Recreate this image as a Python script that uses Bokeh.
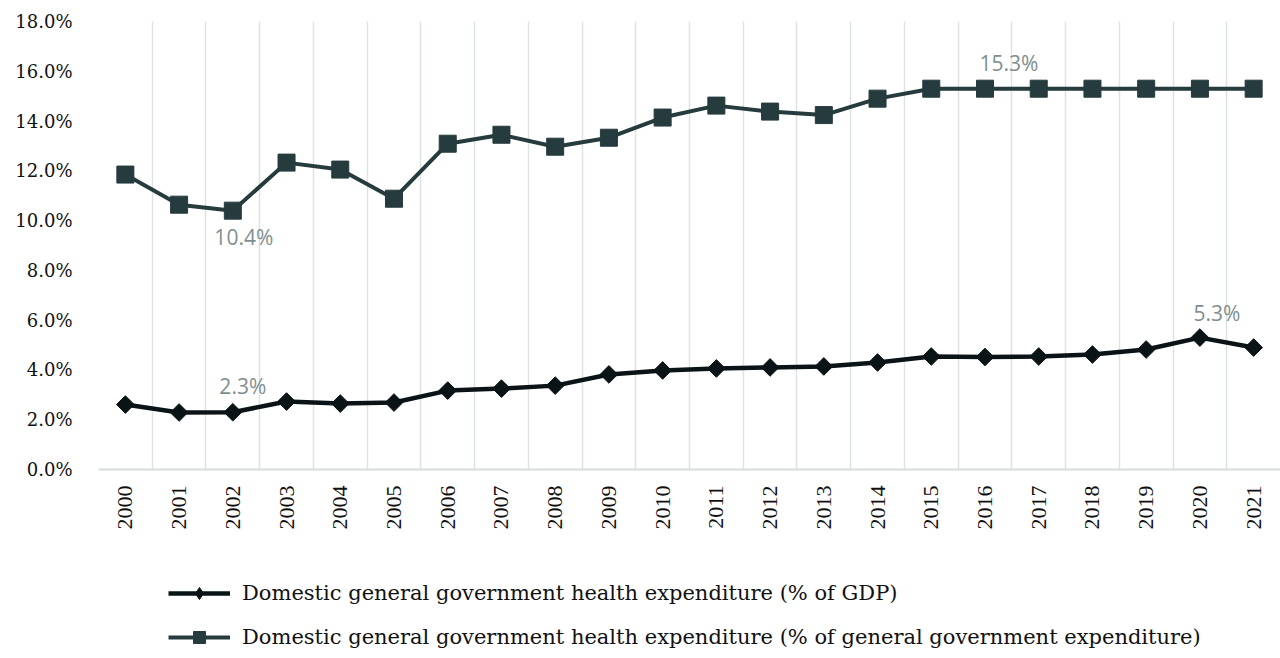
from math import pi
from bokeh.plotting import figure
from bokeh.layouts import column
from bokeh.models import (Legend, LegendItem, FixedTicker, ColumnDataSource,
                          Range1d, PrintfTickFormatter)
from bokeh.core.properties import value
from bokeh.embed import file_html
from bokeh.resources import INLINE

# ---- data ----
years = [str(y) for y in range(2000, 2022)]
gdp_share = [2.61, 2.29, 2.3, 2.73, 2.65, 2.69, 3.17, 3.25, 3.37, 3.82, 3.98,
             4.06, 4.1, 4.14, 4.3, 4.54, 4.52, 4.54, 4.62, 4.82, 5.3, 4.9]
gov_share = [11.85, 10.64, 10.4, 12.33, 12.05, 10.88, 13.09, 13.45, 12.97, 13.33,
             14.14, 14.62, 14.38, 14.24, 14.9, 15.3, 15.3, 15.3, 15.3, 15.3,
             15.3, 15.3]
gdp_label_idx = [2, 20]
gov_label_idx = [2, 16]
y_ticks = [0, 2, 4, 6, 8, 10, 12, 14, 16, 18]
series_names = [
    "Domestic general government health expenditure (% of GDP)",
    "Domestic general government health expenditure (% of general government expenditure)",
]

SERIF = "'DejaVu Serif', serif"
TIMES = "'Liberation Serif', serif"

xs = [i + 0.5 for i in range(len(years))]
src = ColumnDataSource(dict(x=xs, gdp=gdp_share, gov=gov_share))

p = figure(width=1280, height=549, x_range=Range1d(0, len(years)),
           y_range=Range1d(0, 18), output_backend="svg", toolbar_location=None,
           min_border_left=98, min_border_right=0, min_border_top=21,
           min_border_bottom=80)
p.outline_line_color = None
p.background_fill_color = "white"

# grid at category boundaries
p.xgrid.ticker = FixedTicker(ticks=list(range(0, len(years) + 1)))
p.xgrid.grid_line_color = "#dde3e3"
p.xgrid.grid_line_width = 1.5
p.ygrid.grid_line_color = None

# x axis
p.xaxis.ticker = FixedTicker(ticks=xs)
p.xaxis.major_label_overrides = {x: y for x, y in zip(xs, years)}
p.xaxis.major_label_orientation = pi / 2
p.xaxis.major_label_text_font = TIMES
p.xaxis.major_label_text_font_size = "22px"
p.xaxis.major_label_text_color = "#111111"
p.xaxis.major_label_standoff = 16
p.xaxis.axis_line_color = "#d6dcdc"
p.xaxis.axis_line_width = 2
p.xaxis.major_tick_line_color = None
p.xaxis.minor_tick_line_color = None
p.xaxis.major_tick_out = 0
p.xaxis.minor_tick_out = 0

# y axis
p.yaxis.ticker = FixedTicker(ticks=y_ticks)
p.yaxis.formatter = PrintfTickFormatter(format="%.1f%%")
p.yaxis.major_label_text_font = SERIF
p.yaxis.major_label_text_font_size = "18px"
p.yaxis.major_label_text_color = "#111111"
p.yaxis.major_label_standoff = 26
p.yaxis.axis_line_color = None
p.yaxis.major_tick_line_color = None
p.yaxis.minor_tick_line_color = None
p.yaxis.major_tick_out = 0
p.yaxis.minor_tick_out = 0

c_gdp = "#0a1416"
c_gov = "#263b3d"

p.line("x", "gdp", source=src, line_color=c_gdp, line_width=4.5)
p.scatter("x", "gdp", source=src, marker="square", angle=pi / 4, size=12.5,
          fill_color=c_gdp, line_color=c_gdp)
p.line("x", "gov", source=src, line_color=c_gov, line_width=4)
p.scatter("x", "gov", source=src, marker="square", size=17,
          fill_color=c_gov, line_color=c_gov)

# data labels
lab_color = "#7f8f8f"
def add_label(idx, series, dx, dy):
    s = ColumnDataSource(dict(x=[xs[idx]], y=[series[idx]],
                              t=[f"{series[idx]:.1f}%"]))
    p.text("x", "y", text="t", source=s, text_font=value("Open Sans"),
           text_font_size="21px", text_color=lab_color, text_align="center",
           text_baseline="middle", x_offset=dx, y_offset=dy)

add_label(gdp_label_idx[0], gdp_share, 10, -26)
add_label(gdp_label_idx[1], gdp_share, 17, -25)
add_label(gov_label_idx[0], gov_share, 11, 26)
add_label(gov_label_idx[1], gov_share, 24, -26)

# ---- legend panel (separate strip under the chart) ----
p2 = figure(width=1280, height=109, x_range=Range1d(-2, -1),
            y_range=Range1d(-2, -1), output_backend="svg",
            toolbar_location=None, x_axis_type=None, y_axis_type=None,
            min_border=0)
p2.outline_line_color = None
p2.grid.visible = False
k1 = p2.line("x", "gdp", source=src, line_color=c_gdp, line_width=4.5)
k2 = p2.scatter("x", "gdp", source=src, marker="diamond", size=18,
                fill_color=c_gdp, line_color=c_gdp)
k3 = p2.line("x", "gov", source=src, line_color=c_gov, line_width=4)
k4 = p2.scatter("x", "gov", source=src, marker="square", size=17,
                fill_color=c_gov, line_color=c_gov)

legend = Legend(items=[LegendItem(label=series_names[0], renderers=[k1, k2]),
                       LegendItem(label=series_names[1], renderers=[k3, k4])],
                location=(70, 6), orientation="vertical",
                glyph_width=62, glyph_height=30, label_height=30,
                spacing=14, padding=0, margin=0, label_standoff=12,
                label_text_font=SERIF, label_text_font_size="21px",
                label_text_color="#111111", background_fill_alpha=0,
                border_line_color=None)
p2.add_layout(legend, "center")

open("out.html", "w").write(file_html(column(p, p2, spacing=0), INLINE))
